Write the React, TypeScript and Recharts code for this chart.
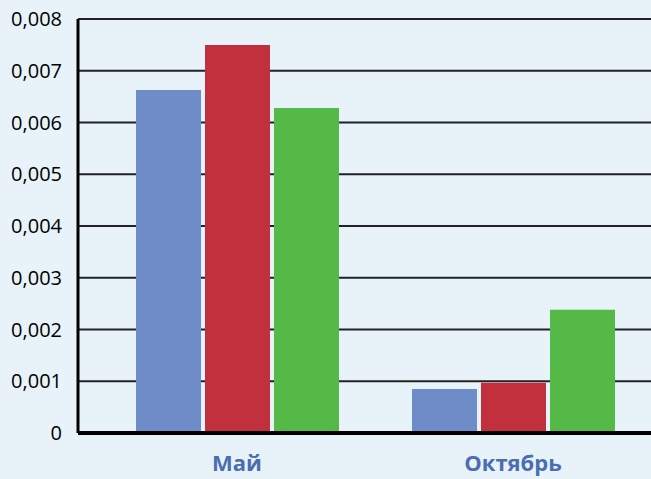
import React from 'react'
import { BarChart, Bar, XAxis, YAxis, CartesianGrid } from 'recharts'

const months = ['Май', 'Октябрь']
const seriesA = [0.00663, 0.00085]
const seriesB = [0.0075, 0.00097]
const seriesC = [0.00628, 0.00238]
const yTicks = [0, 0.001, 0.002, 0.003, 0.004, 0.005, 0.006, 0.007, 0.008]

const data = months.map((m, i) => ({ month: m, a: seriesA[i], b: seriesB[i], c: seriesC[i] }))

const fmt = (v: number) => (v === 0 ? '0' : v.toFixed(3).replace('.', ','))

export default function App() {
  return (
    <div style={{ position: 'fixed', left: 0, top: 0, width: 651, height: 479, background: '#e7f3f9', overflow: 'hidden' }}>
      <BarChart
        width={651}
        height={479}
        data={data}
        margin={{ top: 19, right: 0, bottom: 0, left: 0 }}
        barSize={65}
        barGap={4}
      >
        <CartesianGrid vertical={false} stroke="#222" strokeWidth={2} />
        <XAxis
          dataKey="month"
          height={46}
          padding={{ left: 21, right: 0 }}
          tickLine={false}
          axisLine={{ stroke: '#000', strokeWidth: 4 }}
          tick={{ fill: '#4a6eb0', fontSize: 22, fontWeight: 700, fontFamily: 'Open Sans' }}
          tickMargin={16}
          interval={0}
        />
        <YAxis
          width={78}
          domain={[0, 0.008]}
          ticks={yTicks}
          tickFormatter={fmt}
          tickLine={false}
          axisLine={{ stroke: '#000', strokeWidth: 3 }}
          tick={{ fill: '#000', fontSize: 20, fontFamily: 'Open Sans' }}
          tickMargin={10}
        />
        <Bar dataKey="a" fill="#6e8cc8" isAnimationActive={false} />
        <Bar dataKey="b" fill="#c3303d" isAnimationActive={false} />
        <Bar dataKey="c" fill="#55b948" isAnimationActive={false} />
      </BarChart>
    </div>
  )
}
